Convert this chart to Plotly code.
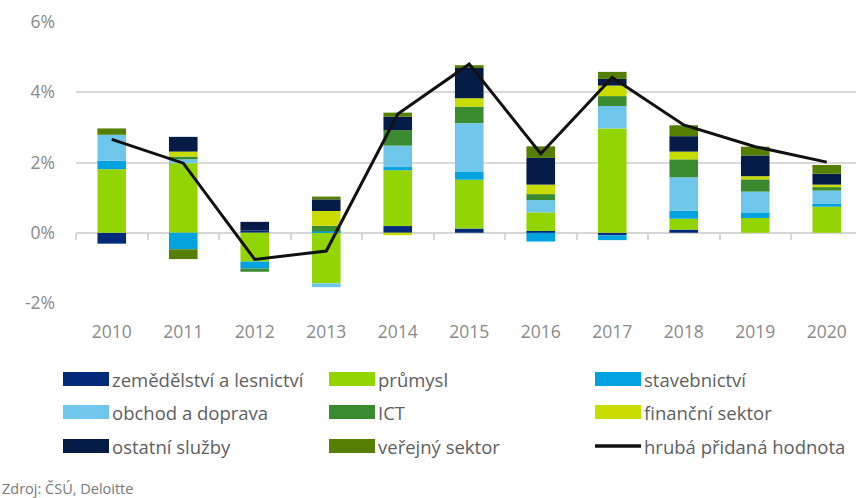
import plotly.graph_objects as go

years = ["2010", "2011", "2012", "2013", "2014", "2015", "2016", "2017", "2018", "2019", "2020"]

zemedelstvi = [-0.31, 0.00, 0.06, 0.00, 0.19, 0.12, 0.05, -0.07, 0.09, 0.00, 0.00]
prumysl = [1.81, 1.98, -0.82, -1.44, 1.59, 1.39, 0.53, 2.97, 0.31, 0.42, 0.74]
stavebnictvi = [0.24, -0.47, -0.20, 0.04, 0.09, 0.22, -0.25, -0.14, 0.23, 0.16, 0.08]
obchod = [0.74, 0.11, 0.00, -0.11, 0.61, 1.39, 0.35, 0.64, 0.95, 0.59, 0.38]
ict = [0.00, 0.08, -0.09, 0.16, 0.44, 0.47, 0.17, 0.28, 0.51, 0.35, 0.10]
financni = [0.00, 0.14, 0.00, 0.42, -0.07, 0.24, 0.27, 0.30, 0.22, 0.09, 0.07]
ostatni = [0.00, 0.42, 0.25, 0.33, 0.38, 0.86, 0.76, 0.19, 0.44, 0.59, 0.31]
verejny = [0.18, -0.28, 0.00, 0.08, 0.12, 0.08, 0.33, 0.20, 0.31, 0.25, 0.25]
hph = [2.66, 1.98, -0.76, -0.52, 3.38, 4.80, 2.25, 4.42, 3.07, 2.45, 2.01]

y_tickvals = [-2, 0, 2, 4, 6]
y_ticktext = ["-2%", "0%", "2%", "4%", "6%"]

series = [
    ("zemědělství a lesnictví", zemedelstvi, "#012a7a"),
    ("průmysl", prumysl, "#93d500"),
    ("stavebnictví", stavebnictvi, "#00a3e0"),
    ("obchod a doprava", obchod, "#6ec6ea"),
    ("ICT", ict, "#3a8a30"),
    ("finanční sektor", financni, "#c8dc00"),
    ("ostatní služby", ostatni, "#061c48"),
    ("veřejný sektor", verejny, "#557f00"),
]
line_name = "hrubá přidaná hodnota"

W, H = 856, 498
ML, MR, MT, MB = 76, 0, 22, 195
PW, PH = W - ML - MR, H - MT - MB

def px(x):
    return (x - ML) / PW

def py(y):
    return (H - MB - y) / PH

fig = go.Figure()
for name, vals, col in series:
    fig.add_trace(go.Bar(x=years, y=vals, name=name, marker=dict(color=col, line=dict(width=0)),
                         showlegend=False))
fig.add_trace(go.Scatter(x=years, y=hph, name=line_name, mode="lines", xaxis="x2",
                         line=dict(color="#111111", width=3), showlegend=False))

font_fam = "Open Sans"
rng = [-0.5, -0.5 + PW / 71.5]

fig.update_layout(
    width=W, height=H,
    margin=dict(l=ML, r=MR, t=MT, b=MB),
    paper_bgcolor="white", plot_bgcolor="white",
    barmode="relative", bargap=0.6,
    font=dict(family=font_fam, color="#8a8a8a", size=17),
    xaxis=dict(type="category", categoryarray=years, range=rng, showgrid=False,
               showline=False, ticks="", zeroline=False, ticklabelstandoff=16,
               tickfont=dict(size=17.5, color="#8a8a8a")),
    xaxis2=dict(type="category", categoryarray=years, range=rng, overlaying="x",
                anchor="free", position=0.25, showticklabels=False, ticks="outside",
                tickson="boundaries", ticklen=6, tickcolor="#d6d6d6", tickwidth=1.5,
                showline=True, linecolor="#d6d6d6", linewidth=1.5, showgrid=False,
                layer="below traces"),
    yaxis=dict(range=[-2, 6], tickvals=y_tickvals, ticktext=y_ticktext, showgrid=True,
               gridcolor="#d9d9d9", gridwidth=1.5, zeroline=False, showline=False,
               ticks="", ticklabelstandoff=20, tickfont=dict(size=17.5, color="#8a8a8a")),
)

# legend drawn as swatches + text
col_x = [63, 329, 595]
row_y = [379, 412, 446]
items = [(n, c, "bar") for n, _, c in series] + [(line_name, "#111111", "line")]
for i, (name, col, kind) in enumerate(items):
    r, c = divmod(i, 3)
    x0 = col_x[c]
    yc = row_y[r]
    if kind == "bar":
        fig.add_shape(type="rect", xref="paper", yref="paper",
                      x0=px(x0), x1=px(x0 + 46), y0=py(yc + 7), y1=py(yc - 7),
                      fillcolor=col, line=dict(width=0))
    else:
        fig.add_shape(type="line", xref="paper", yref="paper",
                      x0=px(x0), x1=px(x0 + 46), y0=py(yc), y1=py(yc),
                      line=dict(color=col, width=3.5))
    fig.add_annotation(text=name, xref="paper", yref="paper", x=px(x0 + 47), y=py(yc),
                       xanchor="left", yanchor="middle", showarrow=False,
                       font=dict(family=font_fam, size=18.5, color="#5f5f5f"))

fig.add_annotation(text="Zdroj: ČSÚ, Deloitte", xref="paper", yref="paper", x=px(0), y=py(489),
                   xanchor="left", yanchor="middle", showarrow=False,
                   font=dict(family=font_fam, size=14.5, color="#7a7a7a"))

fig.write_html("out.html", config={"displayModeBar": False},
               post_script="document.body.style.margin='0';document.body.style.overflow='hidden';")
